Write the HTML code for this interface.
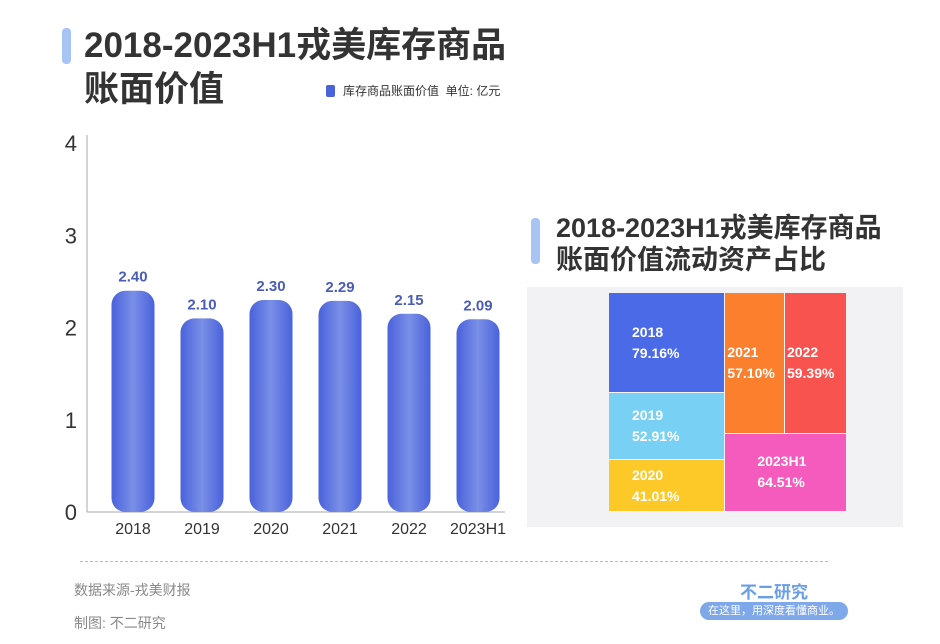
<!DOCTYPE html>
<html><head><meta charset="utf-8"><style>
body{margin:0;width:940px;height:644px;background:#fff;font-family:"Liberation Sans","Noto Sans CJK SC",sans-serif;position:relative;overflow:hidden}
.abs{position:absolute}
.bar1{position:absolute;left:62px;width:9px;border-radius:4px;background:#a8c4f5}
</style></head><body>
<div class="bar1" style="top:28px;height:36px"></div>
<div class="abs" style="left:84px;top:24px;font-size:35px;font-weight:bold;color:#333;line-height:44px">2018-2023H1戎美库存商品<br>账面价值</div>
<div class="abs" style="left:326px;top:82px;font-size:12px;color:#333"><span style="display:inline-block;width:9px;height:12px;background:#4a63d9;border-radius:2px;vertical-align:-2px;margin-right:8px"></span>库存商品账面价值&nbsp;&nbsp;单位: 亿元</div>
<svg class="abs" style="left:0;top:0" width="940" height="644" id="chart">
<defs><linearGradient id="bg" x1="0" x2="1"><stop offset="0" stop-color="#4a62dc"/><stop offset="0.5" stop-color="#7a8fe6"/><stop offset="1" stop-color="#4a62dc"/></linearGradient></defs>
</svg>
<div class="bar1" style="left:531px;top:218px;height:46px"></div>
<div class="abs" style="left:556px;top:212px;font-size:27px;font-weight:bold;color:#333;line-height:32px">2018-2023H1戎美库存商品<br>账面价值流动资产占比</div>
<div class="abs" style="left:527px;top:287px;width:376px;height:240px;background:#f2f2f4"></div>
<div id="tm" class="abs" style="left:609px;top:293px;width:238px;height:219px"></div>
<div class="abs" style="left:80px;top:561px;width:748px;border-top:1px dashed #bbb"></div>
<div class="abs" style="left:74px;top:580px;font-size:14px;color:#888">数据来源-戎美财报</div>
<div class="abs" style="left:74px;top:613px;font-size:14px;color:#888">制图: 不二研究</div>
<div class="abs" style="left:740px;top:578px;font-size:17px;color:#6a9ee8;font-weight:bold">不二研究</div>
<div class="abs" style="left:700px;top:602px;width:148px;height:18px;background:#7fa8ea;border-radius:9px;color:#fff;font-size:11px;text-align:center;line-height:18px">在这里，用深度看懂商业。</div>
<script>
const categories=["2018","2019","2020","2021","2022","2023H1"];
const values=[2.40,2.10,2.30,2.29,2.15,2.09];
const yTicks=[0,1,2,3,4];
const tmLabels=["2018","2019","2020","2021","2022","2023H1"];
const tmValues=[79.16,52.91,41.01,57.10,59.39,64.51];
const tmColors=["#4a6ae8","#78d0f5","#fcc928","#fb7f2c","#f9534f","#f55bbd"];
const NS="http://www.w3.org/2000/svg";
const svg=document.getElementById('chart');
const y=v=>512-v*92.2, x=i=>133+i*69;
function mk(t,a,txt){const e=document.createElementNS(NS,t);for(const k in a)e.setAttribute(k,a[k]);if(txt!==undefined)e.textContent=txt;svg.appendChild(e);return e;}
let ax=mk('line',{x1:87,y1:135,x2:87,y2:512,stroke:'#aaa'});

let bx=mk('line',{x1:87,y1:512,x2:505,y2:512,stroke:'#aaa'});

yTicks.forEach(t=>{const e=mk('text',{x:77,y:y(t)+8,'text-anchor':'end','font-size':22,fill:'#333'},t);
});
categories.forEach((c,i)=>{
 const r=mk('rect',{x:x(i)-21.5,y:y(values[i]),width:43,height:512-y(values[i]),rx:14,fill:'url(#bg)'});
 
 const l=mk('text',{x:x(i),y:y(values[i])-9,'text-anchor':'middle','font-size':15,'font-weight':'bold',fill:'#4a5cb8'},values[i].toFixed(2));
 
 const t=mk('text',{x:x(i),y:534,'text-anchor':'middle','font-size':16,fill:'#333'},c);
 
});
const W=238,H=219,tm=document.getElementById('tm');
const sum=a=>a.reduce((s,v)=>s+v,0);
const total=sum(tmValues),leftW=W*sum(tmValues.slice(0,3))/total,rightW=W-leftW;
const rects=[];let yy=0;const ls=sum(tmValues.slice(0,3));
for(let i=0;i<3;i++){const h=H*tmValues[i]/ls;rects.push([0,yy,leftW,h]);yy+=h;}
const rs=sum(tmValues.slice(3));const topH=H*(tmValues[3]+tmValues[4])/rs;
const w3=rightW*tmValues[3]/(tmValues[3]+tmValues[4]);
rects.push([leftW,0,w3,topH]);rects.push([leftW+w3,0,rightW-w3,topH]);rects.push([leftW,topH,rightW,H-topH]);
rects.forEach((r,i)=>{const d=document.createElement('div');
 
 
 d.style.cssText=`position:absolute;left:${r[0]}px;top:${r[1]}px;width:${r[2]-1}px;height:${r[3]-1}px;background:${tmColors[i]};color:#fff;font-weight:bold;font-size:14px;line-height:21px;display:flex;align-items:center;box-sizing:border-box;padding-left:${i>=3&&i<5?2:(i==5?32:23)}px`;
 d.innerHTML=`<div>${tmLabels[i]}<br>${tmValues[i].toFixed(2)}%</div>`;tm.appendChild(d);});
</script>
</body></html>
